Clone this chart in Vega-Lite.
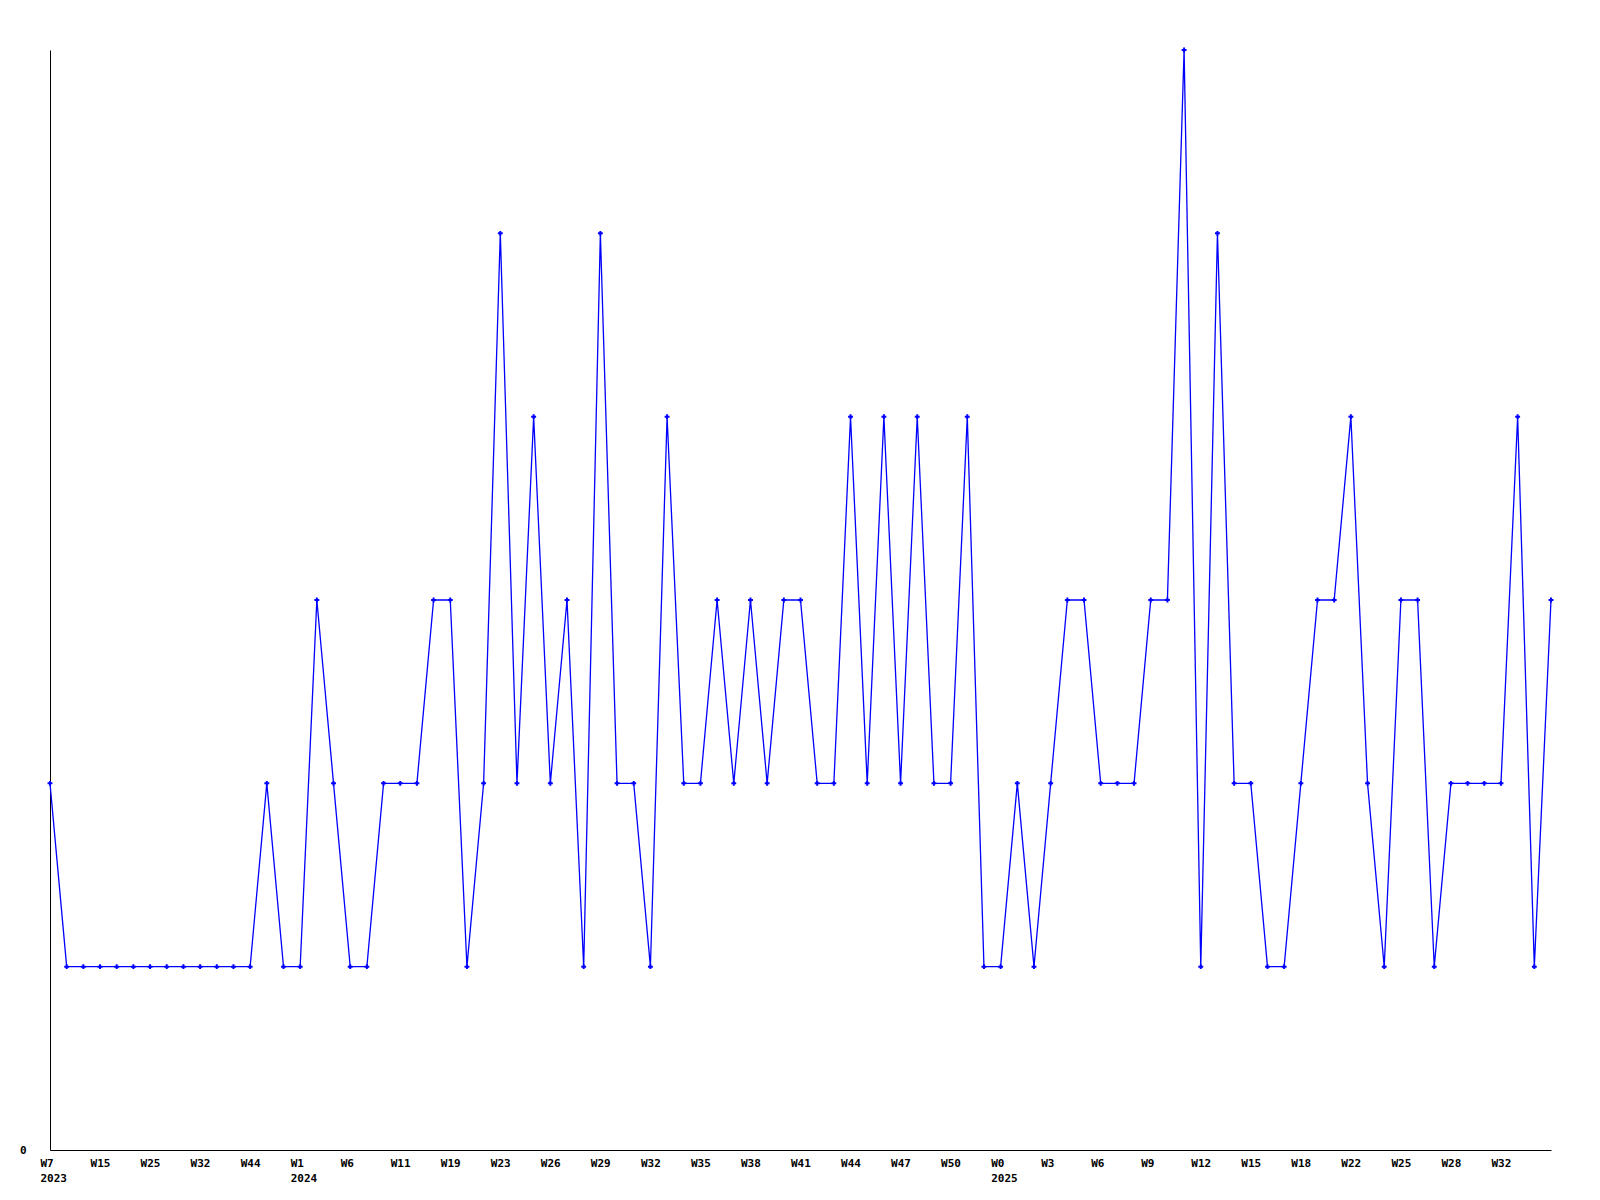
{
  "$schema": "https://vega.github.io/schema/vega-lite/v6.json",
  "autosize": {"type": "none"},
  "padding": {"left": 50, "top": 50, "right": 49, "bottom": 50},
  "width": 1501,
  "height": 1100,
  "background": "white",
  "config": {
    "view": {"stroke": null},
    "axis": {
      "labelFont": "DejaVu Sans Mono",
      "labelFontSize": 11,
      "labelFontWeight": "bold",
      "labelColor": "black",
      "domainColor": "black",
      "domainWidth": 1,
      "grid": false,
      "ticks": false,
      "title": null
    }
  },
  "data": {
    "values": [
      {"week": "2023-W7", "value": 2},
      {"week": "2023-W10", "value": 1},
      {"week": "2023-W12", "value": 1},
      {"week": "2023-W15", "value": 1},
      {"week": "2023-W18", "value": 1},
      {"week": "2023-W21", "value": 1},
      {"week": "2023-W25", "value": 1},
      {"week": "2023-W27", "value": 1},
      {"week": "2023-W29", "value": 1},
      {"week": "2023-W32", "value": 1},
      {"week": "2023-W36", "value": 1},
      {"week": "2023-W40", "value": 1},
      {"week": "2023-W44", "value": 1},
      {"week": "2023-W47", "value": 2},
      {"week": "2023-W50", "value": 1},
      {"week": "2024-W1", "value": 1},
      {"week": "2024-W3", "value": 3},
      {"week": "2024-W4", "value": 2},
      {"week": "2024-W6", "value": 1},
      {"week": "2024-W7", "value": 1},
      {"week": "2024-W9", "value": 2},
      {"week": "2024-W11", "value": 2},
      {"week": "2024-W14", "value": 2},
      {"week": "2024-W17", "value": 3},
      {"week": "2024-W19", "value": 3},
      {"week": "2024-W20", "value": 1},
      {"week": "2024-W22", "value": 2},
      {"week": "2024-W23", "value": 5},
      {"week": "2024-W24", "value": 2},
      {"week": "2024-W25", "value": 4},
      {"week": "2024-W26", "value": 2},
      {"week": "2024-W27", "value": 3},
      {"week": "2024-W28", "value": 1},
      {"week": "2024-W29", "value": 5},
      {"week": "2024-W30", "value": 2},
      {"week": "2024-W31", "value": 2},
      {"week": "2024-W32", "value": 1},
      {"week": "2024-W33", "value": 4},
      {"week": "2024-W34", "value": 2},
      {"week": "2024-W35", "value": 2},
      {"week": "2024-W36", "value": 3},
      {"week": "2024-W37", "value": 2},
      {"week": "2024-W38", "value": 3},
      {"week": "2024-W39", "value": 2},
      {"week": "2024-W40", "value": 3},
      {"week": "2024-W41", "value": 3},
      {"week": "2024-W42", "value": 2},
      {"week": "2024-W43", "value": 2},
      {"week": "2024-W44", "value": 4},
      {"week": "2024-W45", "value": 2},
      {"week": "2024-W46", "value": 4},
      {"week": "2024-W47", "value": 2},
      {"week": "2024-W48", "value": 4},
      {"week": "2024-W49", "value": 2},
      {"week": "2024-W50", "value": 2},
      {"week": "2024-W51", "value": 4},
      {"week": "2024-W52", "value": 1},
      {"week": "2025-W0", "value": 1},
      {"week": "2025-W1", "value": 2},
      {"week": "2025-W2", "value": 1},
      {"week": "2025-W3", "value": 2},
      {"week": "2025-W4", "value": 3},
      {"week": "2025-W5", "value": 3},
      {"week": "2025-W6", "value": 2},
      {"week": "2025-W7", "value": 2},
      {"week": "2025-W8", "value": 2},
      {"week": "2025-W9", "value": 3},
      {"week": "2025-W10", "value": 3},
      {"week": "2025-W11", "value": 6},
      {"week": "2025-W12", "value": 1},
      {"week": "2025-W13", "value": 5},
      {"week": "2025-W14", "value": 2},
      {"week": "2025-W15", "value": 2},
      {"week": "2025-W16", "value": 1},
      {"week": "2025-W17", "value": 1},
      {"week": "2025-W18", "value": 2},
      {"week": "2025-W19", "value": 3},
      {"week": "2025-W20", "value": 3},
      {"week": "2025-W22", "value": 4},
      {"week": "2025-W23", "value": 2},
      {"week": "2025-W24", "value": 1},
      {"week": "2025-W25", "value": 3},
      {"week": "2025-W26", "value": 3},
      {"week": "2025-W27", "value": 1},
      {"week": "2025-W28", "value": 2},
      {"week": "2025-W29", "value": 2},
      {"week": "2025-W30", "value": 2},
      {"week": "2025-W32", "value": 2},
      {"week": "2025-W33", "value": 4},
      {"week": "2025-W34", "value": 1},
      {"week": "2025-W35", "value": 3}
    ]
  },
  "encoding": {
    "x": {
      "field": "week",
      "type": "ordinal",
      "sort": null,
      "scale": {"type": "point", "padding": 0},
      "axis": {
        "values": ["2023-W7", "2023-W15", "2023-W25", "2023-W32", "2023-W44", "2024-W1", "2024-W6", "2024-W11", "2024-W19", "2024-W23", "2024-W26", "2024-W29", "2024-W32", "2024-W35", "2024-W38", "2024-W41", "2024-W44", "2024-W47", "2024-W50", "2025-W0", "2025-W3", "2025-W6", "2025-W9", "2025-W12", "2025-W15", "2025-W18", "2025-W22", "2025-W25", "2025-W28", "2025-W32"],
        "labelExpr": "indexof(['2023-W7','2024-W1','2025-W0'], datum.value) >= 0 ? [split(datum.value,'-')[1], split(datum.value,'-')[0]] : split(datum.value,'-')[1]",
        "labelAngle": 0,
        "labelAlign": "left",
        "labelBaseline": "top",
        "labelOffset": -10,
        "labelPadding": 7,
        "labelLineHeight": 15,
        "labelOverlap": false,
        "labelBound": false,
        "labelFlush": false
      }
    },
    "y": {
      "field": "value",
      "type": "quantitative",
      "scale": {"domain": [0, 6], "nice": false, "zero": true},
      "axis": {
        "values": [0],
        "labelPadding": 24,
        "labelBaseline": "middle"
      }
    }
  },
  "layer": [
    {"mark": {"type": "line", "color": "#0000ff", "strokeWidth": 1.3}},
    {"mark": {"type": "point", "shape": "cross", "size": 24, "filled": true, "color": "#0000ff", "opacity": 1}}
  ]
}
